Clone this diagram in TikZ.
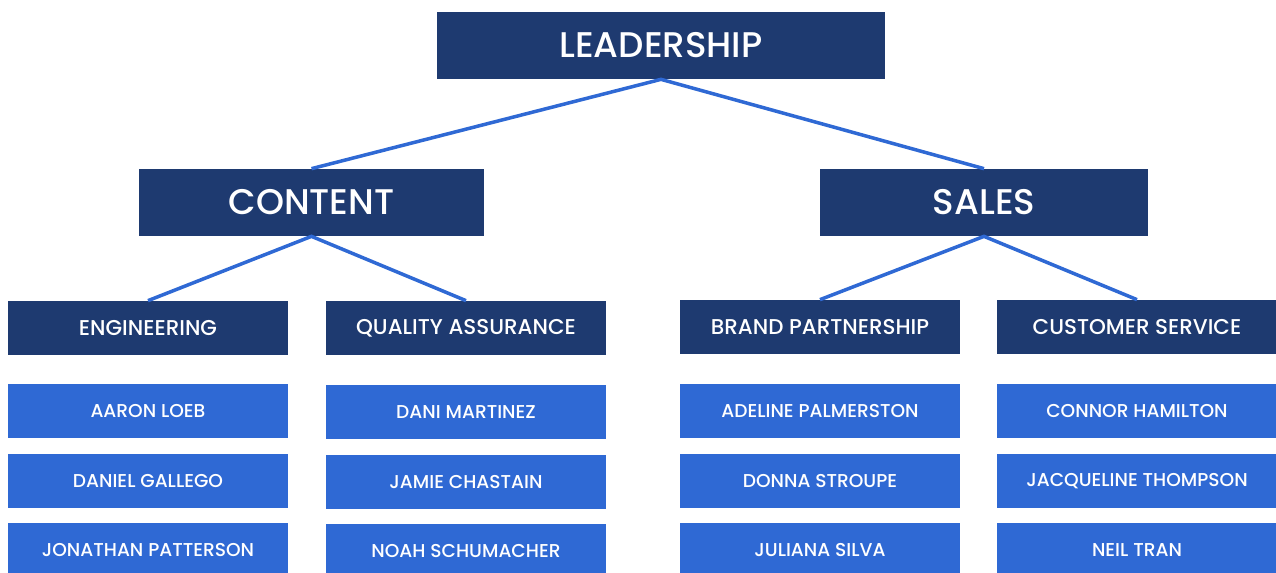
\documentclass[tikz,border=0pt]{standalone}
\usepackage{fontspec}
\setmainfont{Poppins}[UprightFont=* Medium]
\usepackage{tikz}
\usetikzlibrary{positioning}
\definecolor{navy}{HTML}{1E3A70}
\definecolor{midblue}{HTML}{2F69D4}
\tikzset
{
  headbox/.style   = {rectangle, fill=navy, text=white, align=center, inner sep=0pt, minimum height=1.34cm, font=\fontsize{20.3}{24}\selectfont},
  deptbox/.style   = {rectangle, fill=navy, text=white, align=center, inner sep=0pt, minimum width=5.6cm, minimum height=1.08cm, font=\fontsize{12.2}{15}\selectfont},
  personbox/.style = {rectangle, fill=midblue, text=white, align=center, inner sep=0pt, minimum width=5.6cm, minimum height=1.08cm, font=\fontsize{10.6}{13}\selectfont},
  link/.style      = {draw=midblue, line width=2pt}
}
\begin{document}
\begin{tikzpicture}[x=0.02cm, y=-0.02cm]
  \useasboundingbox (0,0) rectangle (1276,572);
  \clip (0,0) rectangle (1276,572);
  % top levels
  \node [headbox, minimum width=8.96cm] (lead) at (661,45.5) {LEADERSHIP};
  \node [headbox, minimum width=6.9cm] (content) at (311.5,202.5) {CONTENT};
  \node [headbox, minimum width=6.56cm] (sales) at (984,202.5) {SALES};
  % departments
  \node [deptbox] (eng) at (148,328) {ENGINEERING};
  \node [deptbox] (qa) at (466,328) {QUALITY ASSURANCE};
  \node [deptbox] (brand) at (820,327) {BRAND PARTNERSHIP};
  \node [deptbox] (cust) at (1137,327) {CUSTOMER SERVICE};
  % people
  \node [personbox] (eng1) at (148,411) {AARON LOEB};
  \node [personbox] (eng2) at (148,481) {DANIEL GALLEGO};
  \node [personbox] (eng3) at (148,550) {JONATHAN PATTERSON};
  \node [personbox] (qa1) at (466,412) {DANI MARTINEZ};
  \node [personbox] (qa2) at (466,482) {JAMIE CHASTAIN};
  \node [personbox] (qa3) at (466,551) {NOAH SCHUMACHER};
  \node [personbox] (brand1) at (820,411) {ADELINE PALMERSTON};
  \node [personbox] (brand2) at (820,481) {DONNA STROUPE};
  \node [personbox] (brand3) at (820,550) {JULIANA SILVA};
  \node [personbox] (cust1) at (1137,411) {CONNOR HAMILTON};
  \node [personbox] (cust2) at (1137,481) {JACQUELINE THOMPSON};
  \node [personbox] (cust3) at (1137,550) {NEIL TRAN};
  % links
  \draw [link] (content.north) -- (lead.south) -- (sales.north);
  \draw [link] (eng.north) -- (content.south) -- (qa.north);
  \draw [link] (brand.north) -- (sales.south) -- (cust.north);
\end{tikzpicture}
\end{document}
